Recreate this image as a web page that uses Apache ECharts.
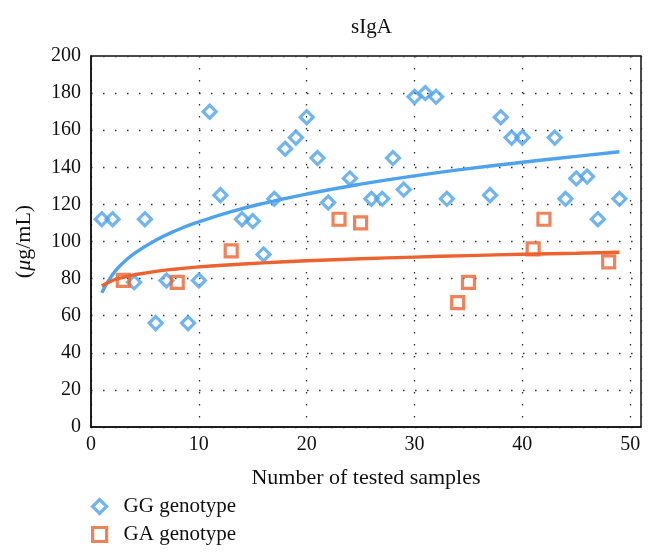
<!DOCTYPE html>
<html><head><meta charset="utf-8">
<script src="https://cdn.jsdelivr.net/npm/echarts@6/dist/echarts.min.js"></script>
<style>html,body{margin:0;padding:0;background:#fff}#c{width:666px;height:555px}</style>
</head><body><div id="c"></div>
<script>
// Data
const ggSamples = [1,2,4,5,6,7,9,10,11,12,14,15,16,17,18,19,20,21,22,24,26,27,28,29,30,31,32,33,37,38,39,40,43,44,45,46,47,49];
const ggValues  = [112,112,78,112,56,79,56,79,170,125,112,111,93,123,150,156,167,145,121,134,123,123,145,128,178,180,178,123,125,167,156,156,156,123,134,135,112,123];
const gaSamples = [3,8,13,23,25,34,35,41,42,48];
const gaValues  = [79,78,95,112,110,67,78,96,112,89];
// Trend lines
const ggTrendX = [1,2,3,4,6,8,10,13,16,20,25,30,35,40,45,49];
const ggTrendY = [72.4,82.2,88.6,93.5,100.7,106.2,110.6,116.1,120.6,125.6,130.9,135.4,139.3,142.7,145.9,148.4];
const gaTrendX = [1,2,3,4,6,8,10,13,16,20,25,30,35,40,45,49];
const gaTrendY = [76,79,80.7,82,83.9,85.2,86.3,87.5,88.5,89.6,90.7,91.6,92.4,93.1,93.7,94.2];
const xTicks = [0,10,20,30,40,50];
const yTicks = [0,20,40,60,80,100,120,140,160,180,200];

const BLUE = '#4ea3ec', ORANGE = '#ec6330';
const FONT = '"Liberation Serif", "Times New Roman", serif';
const zip = (a, b) => a.map((v, i) => [v, b[i]]);

const chart = echarts.init(document.getElementById('c'), null, {renderer: 'canvas'});
const dotted = {type: [1.5, 10.5], color: '#333', width: 1.3};
const legendBase = {
  orient: 'vertical', left: 91, padding: 0,
  itemWidth: 14, itemHeight: 14,
  itemStyle: {borderWidth: 3.2},
  textStyle: {fontFamily: FONT, fontSize: 21, color: '#111', padding: [0, 0, 0, 12]}
};
chart.setOption({
  animation: false,
  backgroundColor: '#fff',
  title: {text: 'sIgA', left: 346, top: 12,
    textStyle: {fontFamily: FONT, fontSize: 21, fontWeight: 'normal', color: '#111'}},
  legend: [
    Object.assign({}, legendBase, {data: ['GG genotype'], top: 496}),
    Object.assign({}, legendBase, {data: ['GA genotype'], top: 524})
  ],
  grid: {left: 91, top: 56, width: 550, height: 371, show: true,
    borderColor: '#111', borderWidth: 1.5, backgroundColor: 'transparent', containLabel: false},
  xAxis: {
    type: 'value', min: 0, max: 51, interval: 10,
    name: 'Number of tested samples', nameLocation: 'middle', nameGap: 40,
    nameTextStyle: {fontFamily: FONT, fontSize: 22, color: '#111'},
    axisLine: {show: true, lineStyle: {color: '#111', width: 1.5}},
    axisTick: {show: false},
    axisLabel: {fontFamily: FONT, fontSize: 20, color: '#111', margin: 8,
      formatter: v => xTicks.indexOf(v) >= 0 ? String(v) : ''},
    splitLine: {show: true, lineStyle: dotted}
  },
  yAxis: {
    type: 'value', min: 0, max: 200, interval: 20,
    name: '({i|\u03bc}g/mL)', nameLocation: 'middle', nameGap: 56,
    nameTextStyle: {fontFamily: FONT, fontSize: 22, color: '#111',
      rich: {i: {fontFamily: FONT, fontSize: 22, fontStyle: 'italic', color: '#111'}}},
    axisLine: {show: true, lineStyle: {color: '#111', width: 1.5}},
    axisTick: {show: false},
    axisLabel: {fontFamily: FONT, fontSize: 20, color: '#111', margin: 10,
      formatter: v => yTicks.indexOf(v) >= 0 ? String(v) : ''},
    splitLine: {show: true, lineStyle: dotted}
  },
  series: [
    {name: 'GG genotype', type: 'scatter', data: zip(ggSamples, ggValues),
      symbol: 'diamond', symbolSize: 13,
      itemStyle: {color: 'rgba(255,255,255,0)', borderColor: BLUE, borderWidth: 3.2}},
    {name: 'GA genotype', type: 'scatter', data: zip(gaSamples, gaValues),
      symbol: 'rect', symbolSize: 12,
      itemStyle: {color: 'rgba(255,255,255,0)', borderColor: ORANGE, borderWidth: 3.2}},
    {name: 'GG trend', type: 'line', data: zip(ggTrendX, ggTrendY), smooth: true,
      symbol: 'none', lineStyle: {color: BLUE, width: 3.4}, z: 3},
    {name: 'GA trend', type: 'line', data: zip(gaTrendX, gaTrendY), smooth: true,
      symbol: 'none', lineStyle: {color: ORANGE, width: 3.4}, z: 3}
  ]
});
</script></body></html>
